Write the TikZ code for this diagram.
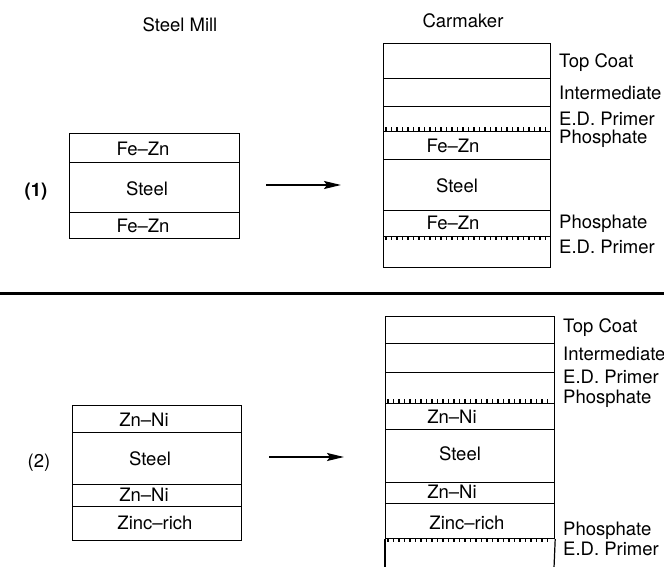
\documentclass[tikz,border=0pt]{standalone}
\usepackage{fontspec}
\setmainfont{TeX Gyre Heros}
\usetikzlibrary{arrows.meta}
\begin{document}
\begin{tikzpicture}[x=1pt,y=-1pt,
  lay/.style={draw, line width=1.2pt, inner sep=0pt, anchor=north west, minimum width=#1},
  txt/.style={inner sep=0pt, anchor=base, font=\fontsize{18.5}{21}\selectfont},
  rtxt/.style={inner sep=0pt, anchor=base west, font=\fontsize{18.5}{21}\selectfont},
  arr/.style={line width=2pt, -{Stealth[length=17pt,width=8pt,inset=3pt]}},
  tickmark/.style={line width=1.1pt},
  sep/.style={line width=3pt}]
\useasboundingbox (0,0) rectangle (664,567);

% titles
\node[txt] (tmill) at (180,32) {Steel Mill};
\node[txt] (tcar) at (463,28) {Carmaker};

% ---------- (1) ----------
\node[txt, font=\fontsize{18.5}{21}\selectfont\bfseries] (n1) at (36,196) {(1)};
\node[lay=170pt, minimum height=29pt] (m1a) at (69,133) {};
\node[lay=170pt, minimum height=50pt] (m1b) at (69,162) {};
\node[lay=170pt, minimum height=26pt] (m1c) at (69,212) {};
\node[txt] (m1at) at (143,156) {Fe--Zn};
\node[txt] (m1bt) at (147,195) {Steel};
\node[txt] (m1ct) at (143,232) {Fe--Zn};

\coordinate (a1s) at (266,185);
\coordinate (a1e) at (341,185);
\draw[arr] (a1s) -- (a1e);

\node[lay=167pt, minimum height=35pt] (c1a) at (383,43) {};
\node[lay=167pt, minimum height=28pt] (c1b) at (383,78) {};
\node[lay=167pt, minimum height=25pt] (c1c) at (383,106) {};
\node[lay=167pt, minimum height=28pt] (c1d) at (383,131) {};
\node[lay=167pt, minimum height=51pt] (c1e) at (383,159) {};
\node[lay=167pt, minimum height=26pt] (c1f) at (383,210) {};
\node[lay=167pt, minimum height=31pt] (c1g) at (383,236) {};
\foreach \x in {386,391.5,...,548} \draw[tickmark] (\x,131) -- (\x,126.8);
\foreach \x in {386,391.5,...,548} \draw[tickmark] (\x,236) -- (\x,240.2);
\node[txt] (c1dt) at (453,153) {Fe--Zn};
\node[txt] (c1et) at (457,192) {Steel};
\node[txt] (c1ft) at (453,229) {Fe--Zn};

\node[rtxt] (r1a) at (559,68) {Top Coat};
\node[rtxt] (r1b) at (559,100) {Intermediate};
\node[rtxt] (r1c) at (559,126) {E.D. Primer};
\node[rtxt] (r1d) at (559,144) {Phosphate};
\node[rtxt] (r1e) at (559,228) {Phosphate};
\node[rtxt] (r1f) at (559,253) {E.D. Primer};

% separator
\coordinate (sl) at (0,293);
\coordinate (sr) at (664,293);
\draw[sep] (sl) -- (sr);

% ---------- (2) ----------
\node[txt] (n2) at (39,467) {(2)};
\node[lay=169pt, minimum height=27pt] (m2a) at (72,405) {};
\node[lay=169pt, minimum height=52pt] (m2b) at (72,432) {};
\node[lay=169pt, minimum height=22pt] (m2c) at (72,484) {};
\node[lay=169pt, minimum height=34pt] (m2d) at (72,506) {};
\node[txt] (m2at) at (144,426) {Zn--Ni};
\node[txt] (m2bt) at (150,465) {Steel};
\node[txt] (m2ct) at (144,501) {Zn--Ni};
\node[txt] (m2dt) at (155,529) {Zinc--rich};

\coordinate (a2s) at (269,457);
\coordinate (a2e) at (344,457);
\draw[arr] (a2s) -- (a2e);

\node[lay=169pt, minimum height=27pt] (c2a) at (385,316) {};
\node[lay=169pt, minimum height=29pt] (c2b) at (385,343) {};
\node[lay=169pt, minimum height=31pt] (c2c) at (385,372) {};
\node[lay=169pt, minimum height=26pt] (c2d) at (385,403) {};
\node[lay=169pt, minimum height=53pt] (c2e) at (385,429) {};
\node[lay=169pt, minimum height=21pt] (c2f) at (385,482) {};
\node[lay=169pt, minimum height=35pt] (c2g) at (385,503) {};
\coordinate (c2bl) at (385,568);
\coordinate (c2br) at (554,568);
\draw[line width=1.2pt] (c2g.south west) -- (c2bl);
\draw[line width=1.2pt] (c2g.south east) -- (c2br);
\foreach \x in {388,393.5,...,552} \draw[tickmark] (\x,403) -- (\x,398.8);
\foreach \x in {388,393.5,...,552} \draw[tickmark] (\x,538) -- (\x,542.2);
\node[txt] (c2dt) at (452,423) {Zn--Ni};
\node[txt] (c2et) at (460,460) {Steel};
\node[txt] (c2ft) at (452,498) {Zn--Ni};
\node[txt] (c2gt) at (467,529) {Zinc--rich};

\node[rtxt] (r2a) at (563,332) {Top Coat};
\node[rtxt] (r2b) at (563,360) {Intermediate};
\node[rtxt] (r2c) at (563,383) {E.D. Primer};
\node[rtxt] (r2d) at (563,403) {Phosphate};
\node[rtxt] (r2e) at (563,535) {Phosphate};
\node[rtxt] (r2f) at (563,555) {E.D. Primer};
\end{tikzpicture}
\end{document}
